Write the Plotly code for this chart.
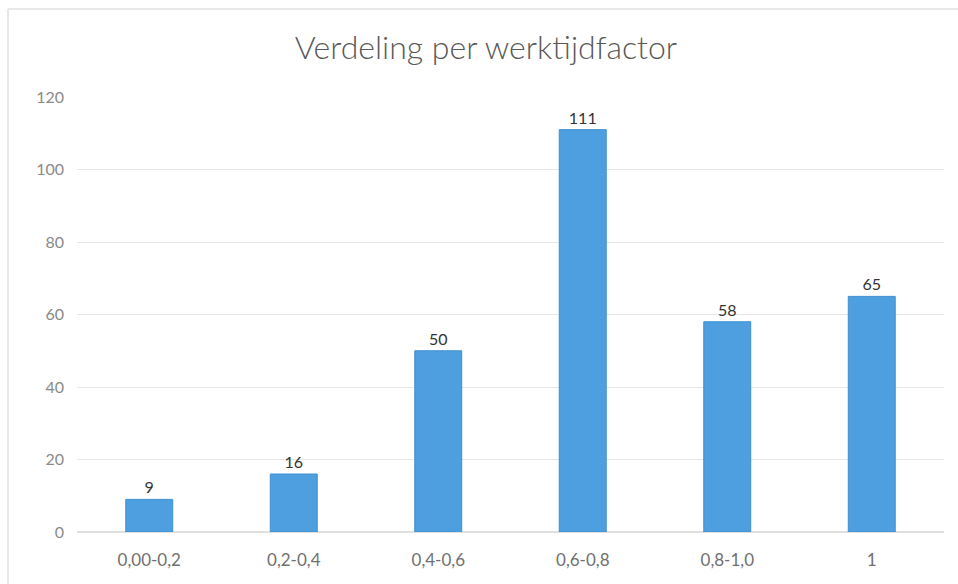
import plotly.graph_objects as go

categories = ["0,00-0,2", "0,2-0,4", "0,4-0,6", "0,6-0,8", "0,8-1,0", "1"]
values = [9, 16, 50, 111, 58, 65]
y_ticks = [0, 20, 40, 60, 80, 100, 120]

L, R, T, B = 77, 14, 97, 52
W, H = 958, 584
pw, ph = W - L - R, H - T - B

fig = go.Figure(go.Bar(
    x=categories, y=values,
    marker=dict(color="#4d9fe0", line=dict(color="#3f8fd0", width=1)),
    width=0.325,
    text=[str(v) for v in values],
    textposition="outside",
    textfont=dict(family="Lato, Open Sans, sans-serif", size=16, color="#333333"),
    cliponaxis=False,
))

fig.update_layout(
    width=W, height=H,
    margin=dict(l=L, r=R, t=T, b=B),
    paper_bgcolor="white", plot_bgcolor="white",
    title=dict(text="Verdeling per werktijdfactor", x=(486 - L) / pw, xref="paper",
               xanchor="center", y=1 - 48 / H, yanchor="middle",
               font=dict(family="Lato Light, Lato, Open Sans, sans-serif", size=32,
                         color="#595959")),
    font=dict(family="Lato, Open Sans, sans-serif"),
    showlegend=False,
)
fig.update_yaxes(range=[0, 120], tickvals=y_ticks, showgrid=True, gridcolor="#e6e6e6",
                 gridwidth=1, zeroline=True, zerolinecolor="#e0e0e0", showline=False,
                 ticks="", ticklabelstandoff=12,
                 tickfont=dict(size=16, color="#8a8a8a"))
fig.update_xaxes(showgrid=False, showline=False, ticks="", ticklabelstandoff=16,
                 tickfont=dict(size=17, color="#707070"))

# faint outer frame (top and left edges)
x_left = (8 - L) / pw
y_top = (H - B - 9) / ph
fig.add_shape(type="line", xref="paper", yref="paper", x0=x_left, x1=(W - L) / pw,
              y0=y_top, y1=y_top, line=dict(color="#e8e8e8", width=2))
fig.add_shape(type="line", xref="paper", yref="paper", x0=x_left, x1=x_left,
              y0=y_top, y1=-B / ph, line=dict(color="#e8e8e8", width=2))

fig.write_html("out.html", config={"displayModeBar": False},
               post_script="document.body.style.margin='0';")
